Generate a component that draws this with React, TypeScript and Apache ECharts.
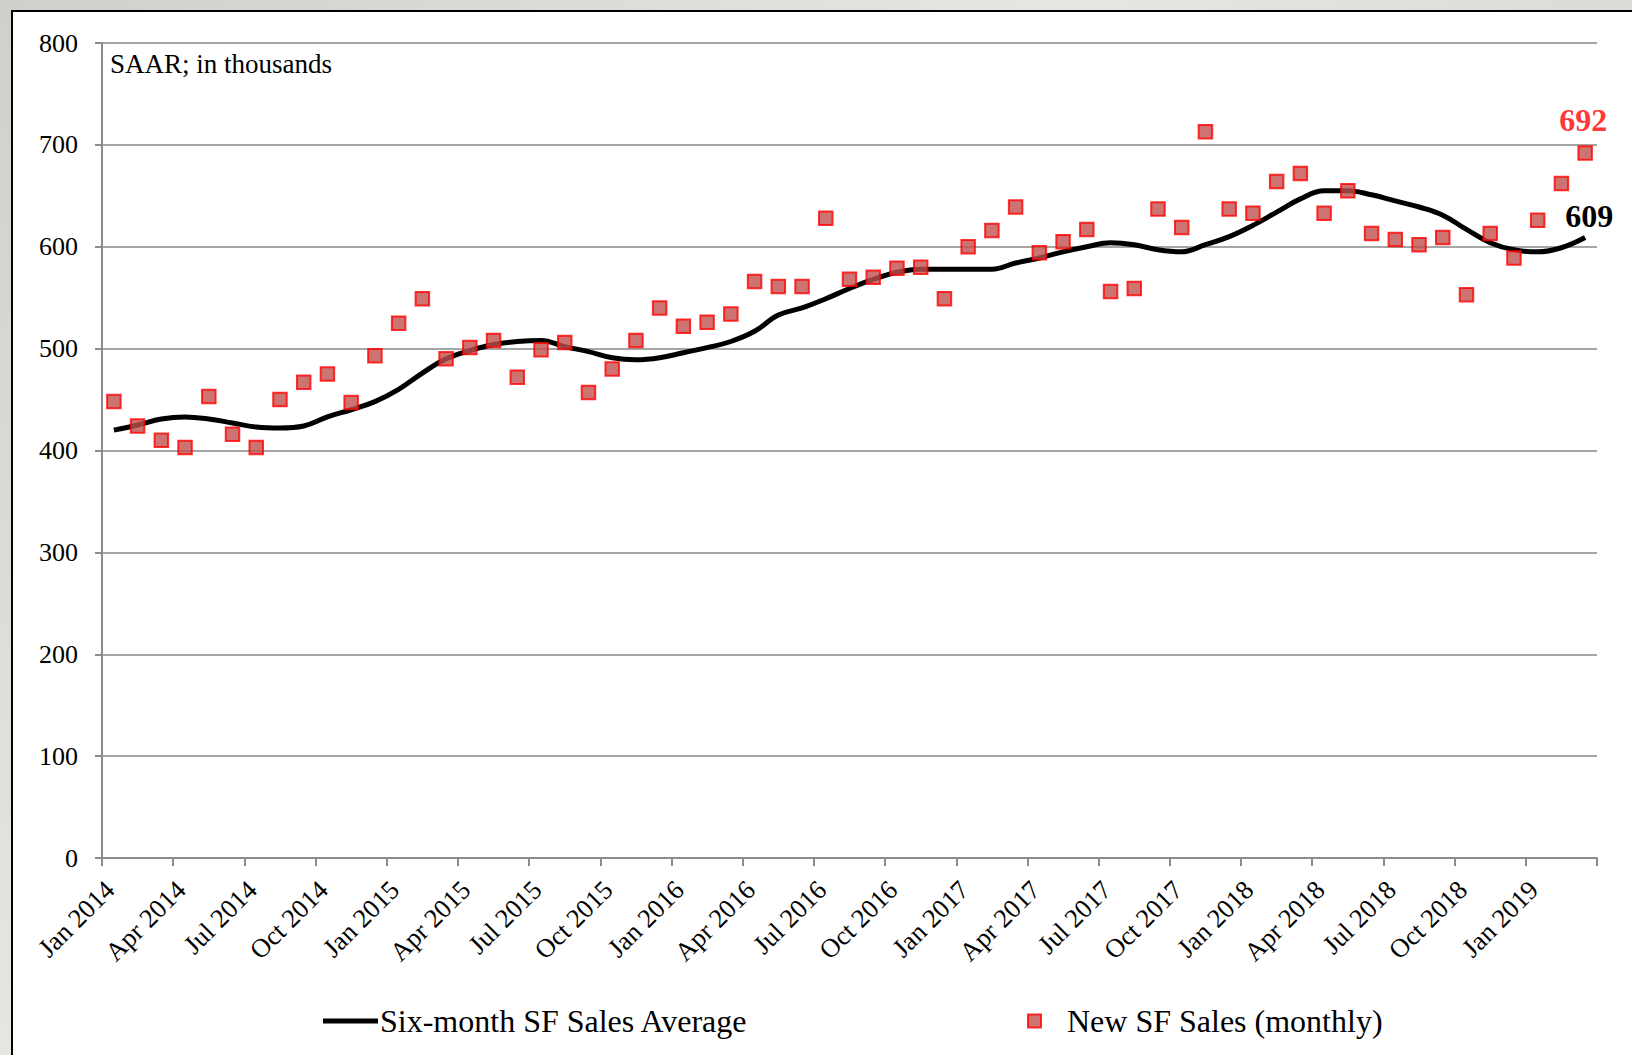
import React, { useEffect, useRef } from "react";
import * as echarts from "echarts";

// Months from Jan 2014 to Mar 2019 (63 months)
const monthNames = ["Jan", "Feb", "Mar", "Apr", "May", "Jun", "Jul", "Aug", "Sep", "Oct", "Nov", "Dec"];
const startYear = 2014;
const monthCount = 63;

// Quarterly tick labels on the x axis
const xTickLabels = [
  "Jan 2014", "Apr 2014", "Jul 2014", "Oct 2014",
  "Jan 2015", "Apr 2015", "Jul 2015", "Oct 2015",
  "Jan 2016", "Apr 2016", "Jul 2016", "Oct 2016",
  "Jan 2017", "Apr 2017", "Jul 2017", "Oct 2017",
  "Jan 2018", "Apr 2018", "Jul 2018", "Oct 2018",
  "Jan 2019",
];

// New SF Sales (monthly), SAAR in thousands
const monthlySales = [
  448, 424, 410, 403, 453, 416, 403, 450, 467, 475, 447, 493,
  525, 549, 490, 501, 508, 472, 499, 506, 457, 480, 508, 540,
  522, 526, 534, 566, 561, 561, 628, 568, 570, 579, 580, 549,
  600, 616, 639, 594, 605, 617, 556, 559, 637, 619, 713, 637,
  633, 664, 672, 633, 655, 613, 607, 602, 609, 553, 613, 589,
  626, 662, 692,
];

// Six-month SF Sales Average
const sixMonthAvg = [
  420, 425, 431, 433, 431, 427, 423, 422, 424, 433, 440, 448,
  460, 476, 490, 498, 504, 507, 508, 502, 497, 491, 489, 491,
  496, 501, 507, 517, 533, 540, 549, 559, 568, 575, 578, 578,
  578, 578, 584, 589, 595, 600, 604, 602, 597, 595, 602, 610,
  621, 634, 647, 655, 655, 651, 645, 639, 631, 617, 604, 597,
  595, 599, 609,
];

const yTicks = { min: 0, max: 800, interval: 100 };

const SERIF = '"Times New Roman", "Liberation Serif", "DejaVu Serif", serif';

export default function App() {
  const ref = useRef<HTMLDivElement>(null);

  useEffect(() => {
    if (!ref.current) return;
    const chart = echarts.init(ref.current, undefined, { renderer: "svg" });
    const categories = Array.from({ length: monthCount }, (_, i) =>
      `${monthNames[i % 12]} ${startYear + Math.floor(i / 12)}`
    );
    const last = monthCount - 1;

    const scatterData = monthlySales.map((v, i) => {
      const item: any = { name: categories[i], value: [i + 0.5, v] };
      if (i === last) {
        item.label = {
          show: true,
          formatter: String(v),
          position: "top",
          distance: 9,
          offset: [-2, 0],
          color: "#ff0000",
          fontWeight: "bold",
          fontSize: 32,
          fontFamily: SERIF,
        };
      }
      return item;
    });

    const lineData = sixMonthAvg.map((v, i) => {
      const item: any = { name: categories[i], value: [i + 0.5, v] };
      if (i === last) {
        item.label = {
          show: true,
          formatter: String(v),
          position: "top",
          distance: 6,
          offset: [4, 0],
          color: "#000000",
          fontWeight: "bold",
          fontSize: 32,
          fontFamily: SERIF,
        };
      }
      return item;
    });

    const axisColor = "#8c8c8c";

    chart.setOption({
      animation: false,
      backgroundColor: "transparent",
      grid: { left: 102, right: 35, top: 43, bottom: 197, containLabel: false },
      xAxis: {
        type: "value",
        min: 0,
        max: monthCount,
        interval: 3,
        axisLine: { show: true, onZero: false, lineStyle: { color: axisColor, width: 2 } },
        axisTick: { show: true, length: 8, lineStyle: { color: axisColor, width: 2 } },
        splitLine: { show: false },
        axisLabel: {
          rotate: 45,
          margin: 35,
          padding: [0, -11, 0, 0],
          color: "#000",
          fontSize: 26.5,
          fontFamily: SERIF,
          showMinLabel: true,
          showMaxLabel: true,
          formatter: (v: number) => xTickLabels[Math.round(v / 3)] ?? "",
        },
      },
      yAxis: {
        type: "value",
        min: yTicks.min,
        max: yTicks.max,
        interval: yTicks.interval,
        axisLine: { show: true, lineStyle: { color: axisColor, width: 2 } },
        axisTick: { show: true, length: 7, lineStyle: { color: axisColor, width: 2 } },
        splitLine: { show: true, lineStyle: { color: "#a6a6a6", width: 2 } },
        axisLabel: { margin: 24, color: "#000", fontSize: 26, fontFamily: SERIF },
      },
      legend: [
        {
          data: [{ name: "Six-month SF Sales Average", icon: "path://M0 0 L55 0 L55 5 L0 5 Z" }],
          left: 318,
          top: 1000,
          itemWidth: 55,
          itemHeight: 5,
          textStyle: { color: "#000", fontSize: 32, fontFamily: SERIF, padding: [0, 0, 0, -3] },
          selectedMode: false,
        },
        {
          data: [{ name: "New SF Sales (monthly)", icon: "rect" }],
          left: 1022,
          top: 1000,
          itemWidth: 13,
          itemHeight: 13,
          textStyle: { color: "#000", fontSize: 32, fontFamily: SERIF, padding: [0, 0, 0, 21] },
          selectedMode: false,
        },
      ],
      graphic: [
        {
          type: "text",
          left: 110,
          top: 50,
          style: { text: "SAAR; in thousands", fill: "#000", font: `27px ${SERIF}` },
        },
      ],
      series: [
        {
          name: "Six-month SF Sales Average",
          type: "line",
          data: lineData,
          smooth: 0.4,
          symbol: "circle",
          symbolSize: 0.01,
          showSymbol: true,
          color: "#000",
          lineStyle: { color: "#000", width: 5 },
          itemStyle: { color: "#000" },
          z: 3,
        },
        {
          name: "New SF Sales (monthly)",
          type: "scatter",
          data: scatterData,
          symbol: "rect",
          symbolSize: 13.5,
          itemStyle: { color: "#c0504d", borderColor: "#ff0000", borderWidth: 2 },
          z: 4,
        },
      ],
    });

    return () => chart.dispose();
  }, []);

  return (
    <div
      style={{
        position: "fixed",
        left: 0,
        top: 0,
        width: 1632,
        height: 1055,
        overflow: "hidden",
        background: "linear-gradient(135deg, #cfcfcb 0%, #e6e6e3 40%, #d6d6d2 70%, #e9e9e6 100%)",
      }}
    >
      <div
        style={{
          position: "absolute",
          left: 11,
          top: 10,
          width: 1700,
          height: 1100,
          background: "#ffffff",
          borderLeft: "2.5px solid #000",
          borderTop: "2.5px solid #000",
        }}
      />
      <div ref={ref} style={{ position: "absolute", left: 0, top: 0, width: 1632, height: 1055 }} />
    </div>
  );
}
